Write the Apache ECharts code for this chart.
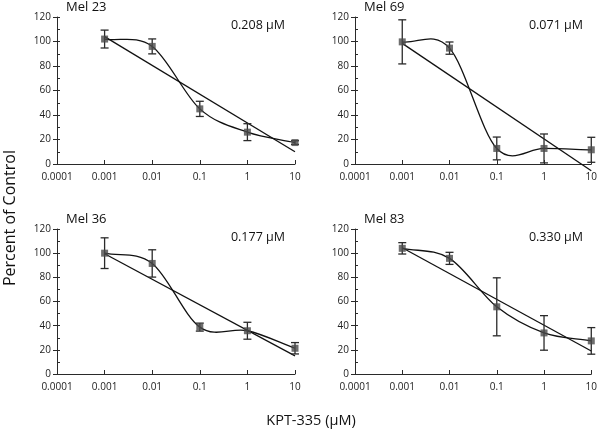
<!DOCTYPE html>
<html>
<head>
<meta charset="utf-8">
<script src="https://cdn.jsdelivr.net/npm/echarts@6/dist/echarts.min.js"></script>
<style>
html,body{margin:0;padding:0;background:#fff;}
#chart{width:600px;height:433px;}
</style>
</head>
<body>
<div id="chart"></div>
<script>
// ---- data ----
const conc = [0.001, 0.01, 0.1, 1, 10];
const xTickLabels = ['0.0001', '0.001', '0.01', '0.1', '1', '10'];
const yTicks = [0, 20, 40, 60, 80, 100, 120];

const panelNames = ['Mel 23', 'Mel 69', 'Mel 36', 'Mel 83'];
const ic50Labels = ['0.208 µM', '0.071 µM', '0.177 µM', '0.330 µM'];

const mel23 = [102, 96, 45, 26, 17.5];
const err23 = [7.3, 6.1, 6.2, 6.9, 1.5];
const trend23 = [104, 10];

const mel69 = [99.7, 94.6, 12.7, 12.7, 11.6];
const err69 = [18, 5, 9.3, 11.8, 10.2];
const trend69 = [98.5, -5.5];

const mel36 = [100, 91.5, 38.8, 35.8, 21.3];
const err36 = [12.7, 11.3, 3.3, 7, 4.7];
const trend36 = [99.5, 15];

const mel83 = [104, 95.7, 55.6, 34, 27.4];
const err83 = [4.7, 5, 24, 14.3, 11];
const trend83 = [104.5, 19];

const trendX = [0.001, 10];

// ---- layout ----
const FONT = 'Open Sans';
const grids = [
  {left: 57, top: 17, width: 238, height: 147},
  {left: 355, top: 17, width: 238, height: 147},
  {left: 57, top: 229, width: 238, height: 145},
  {left: 355, top: 229, width: 238, height: 145}
];
const values = [mel23, mel69, mel36, mel83];
const errs = [err23, err69, err36, err83];
const trends = [trend23, trend69, trend36, trend83];

const AX = '#2a2a2a';
const xAxes = [], yAxes = [], series = [], graphics = [];

// smoothed (Catmull-Rom style) curve segment between data points, drawn in pixel space
function makeCurveRenderer(pts) {
  return function (params, api) {
    const k = params.dataIndex;
    if (k === 0) return null;
    const P = pts.map(p => api.coord(p));
    const n = P.length;
    const tan = j => {
      const a = P[Math.max(0, j - 1)], b = P[Math.min(n - 1, j + 1)];
      const f = (j === 0 || j === n - 1) ? 1 / 3 : 1 / 6;
      return [(b[0] - a[0]) * f, (b[1] - a[1]) * f];
    };
    const p0 = P[k - 1], p1 = P[k];
    const t0 = tan(k - 1), t1 = tan(k);
    return {
      type: 'bezierCurve',
      shape: {
        x1: p0[0], y1: p0[1], x2: p1[0], y2: p1[1],
        cpx1: p0[0] + t0[0], cpy1: p0[1] + t0[1],
        cpx2: p1[0] - t1[0], cpy2: p1[1] - t1[1]
      },
      style: {stroke: '#111', lineWidth: 1.3, fill: null}
    };
  };
}

grids.forEach((g, i) => {
  xAxes.push({
    type: 'log', logBase: 10, gridIndex: i, min: 0.0001, max: 10,
    axisLine: {show: true, lineStyle: {color: AX, width: 1}},
    axisTick: {show: true, inside: true, length: 4, lineStyle: {color: AX}},
    minorTick: {show: false},
    splitLine: {show: false},
    axisLabel: {
      fontFamily: FONT, fontSize: 10, color: '#222', margin: 8,
      formatter: v => xTickLabels[Math.round(Math.log10(v)) + 4] || ''
    }
  });
  yAxes.push({
    type: 'value', gridIndex: i, min: yTicks[0], max: yTicks[yTicks.length - 1], interval: 20,
    axisLine: {show: true, lineStyle: {color: AX, width: 1}},
    axisTick: {show: true, inside: false, length: 4, lineStyle: {color: AX}},
    splitLine: {show: false},
    axisLabel: {fontFamily: FONT, fontSize: 10, color: '#222', margin: 6,
      formatter: v => String(v)}
  });
  yAxes.push({
    type: 'value', gridIndex: i, min: 0, max: 120, interval: 10, position: 'left',
    axisLine: {show: false},
    axisTick: {show: true, inside: true, length: 3, lineStyle: {color: AX}},
    splitLine: {show: false},
    axisLabel: {show: false}
  });

  const yIdx = i * 2;
  const pts = conc.map((c, k) => [c, values[i][k]]);
  // smoothed curve
  series.push({
    type: 'custom', xAxisIndex: i, yAxisIndex: yIdx, data: pts,
    renderItem: makeCurveRenderer(pts), z: 2, silent: true
  });
  // trend line
  series.push({
    type: 'line', xAxisIndex: i, yAxisIndex: yIdx,
    data: trendX.map((c, k) => [c, trends[i][k]]),
    showSymbol: false, symbol: 'none', clip: false,
    lineStyle: {color: '#111', width: 1.3}, z: 2, silent: true
  });
  // error bars
  series.push({
    type: 'custom', xAxisIndex: i, yAxisIndex: yIdx,
    data: conc.map((c, k) => [c, values[i][k], errs[i][k]]),
    renderItem: function (params, api) {
      const x = api.value(0), y = api.value(1), e = api.value(2);
      const top = api.coord([x, y + e]);
      const bot = api.coord([x, Math.max(0, y - e)]);
      const hw = 4;
      const st = {stroke: '#2a2a2a', lineWidth: 1.3};
      return {type: 'group', children: [
        {type: 'line', shape: {x1: top[0], y1: top[1], x2: bot[0], y2: bot[1]}, style: st},
        {type: 'line', shape: {x1: top[0] - hw, y1: top[1], x2: top[0] + hw, y2: top[1]}, style: st},
        {type: 'line', shape: {x1: bot[0] - hw, y1: bot[1], x2: bot[0] + hw, y2: bot[1]}, style: st}
      ]};
    },
    z: 3, silent: true
  });
  // markers
  series.push({
    type: 'scatter', xAxisIndex: i, yAxisIndex: yIdx, data: pts,
    symbol: 'rect', symbolSize: 7,
    itemStyle: {color: '#4a4a4a'}, z: 4, silent: true
  });

  graphics.push({
    type: 'text', left: g.left + 9, top: g.top - 16,
    style: {text: panelNames[i], fontFamily: FONT, fontSize: 13, fill: '#111'}
  });
  graphics.push({
    type: 'text', right: 600 - (g.left + 228), top: g.top + 2,
    style: {text: ic50Labels[i], fontFamily: FONT, fontSize: 12.5, fill: '#111'}
  });
});

graphics.push({
  type: 'text', x: 10, y: 218, rotation: Math.PI / 2,
  style: {text: 'Percent of Control', fontFamily: FONT, fontSize: 16, fill: '#111',
    textAlign: 'center', textVerticalAlign: 'middle'}
});
graphics.push({
  type: 'text', x: 311, y: 421,
  style: {text: 'KPT-335 (µM)', fontFamily: FONT, fontSize: 14.5, fill: '#111',
    textAlign: 'center', textVerticalAlign: 'middle'}
});

const chart = echarts.init(document.getElementById('chart'), null, {renderer: 'canvas'});
chart.setOption({
  animation: false,
  backgroundColor: '#fff',
  grid: grids.map(g => Object.assign({containLabel: false}, g)),
  xAxis: xAxes,
  yAxis: yAxes,
  series: series,
  graphic: graphics
});
</script>
</body>
</html>
